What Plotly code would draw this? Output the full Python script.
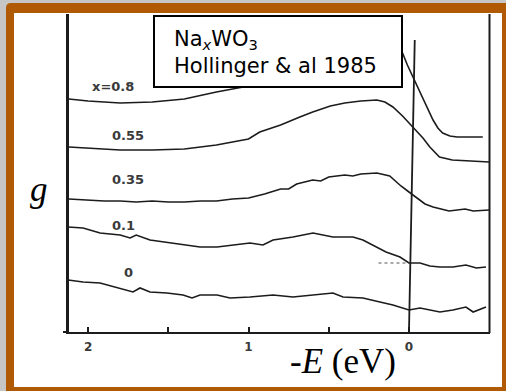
import plotly.graph_objects as go

# Valence-band photoemission spectra of Na_xWO3 (Hollinger et al. 1985)
# Energy axis: -E in eV (binding energy, Fermi level at 0); g in arbitrary units.

energy_08 = [2.12, 2.0, 1.8, 1.6, 1.4, 1.2, 1.0, 0.8, 0.6, 0.4, 0.3, 0.2, 0.12, 0.07,
             0.04, 0.01, -0.025, -0.056, -0.087, -0.12, -0.15, -0.18, -0.21, -0.255,
             -0.30, -0.38, -0.46]
g_08 = [23.3, 23.1, 22.9, 23.0, 23.3, 24.0, 24.6, 25.8, 27.0, 28.2, 28.8, 29.2, 29.2, 28.7,
        27.9, 26.7, 25.5, 24.3, 23.2, 22.1, 21.2, 20.4, 19.9, 19.6,
        19.5, 19.5, 19.5]

energy_055 = [2.12, 2.0, 1.8, 1.6, 1.4, 1.2, 1.0, 0.93, 0.8, 0.68, 0.6, 0.49, 0.4, 0.3,
              0.2, 0.15, 0.1, 0.04, -0.025, -0.087, -0.13, -0.19, -0.27, -0.38, -0.5]
g_055 = [18.5, 18.4, 18.2, 18.2, 18.3, 18.7, 19.3, 20.0, 20.7, 21.5, 22.0, 22.6, 22.9, 23.1,
         23.2, 23.0, 22.5, 21.6, 20.5, 19.4, 18.5, 17.5, 17.2, 17.1, 17.0]

energy_035 = [2.12, 2.0, 1.9, 1.8, 1.7, 1.6, 1.5, 1.4, 1.3, 1.2, 1.1, 1.0, 0.9, 0.8, 0.75,
              0.7, 0.6, 0.55, 0.5, 0.4, 0.35, 0.3, 0.2, 0.12, 0.05, 0.0, -0.05, -0.1,
              -0.15, -0.2, -0.25, -0.3, -0.35, -0.4, -0.5]
g_035 = [13.3, 13.2, 13.1, 13.1, 13.0, 13.1, 13.0, 13.0, 13.1, 13.1, 13.3, 13.4, 13.8, 14.3, 14.3,
         14.8, 15.2, 15.1, 15.5, 15.7, 15.6, 15.8, 15.9, 15.6, 14.6, 14.0, 13.4, 12.8,
         12.5, 12.3, 12.1, 12.2, 12.3, 12.1, 12.2]

energy_01 = [2.125, 2.031, 1.925, 1.80, 1.738, 1.70, 1.614, 1.47, 1.302, 1.196, 1.097, 0.991,
             0.91, 0.847, 0.723, 0.598, 0.474, 0.349, 0.287, 0.224, 0.143, 0.056, 0.0,
             -0.069, -0.13, -0.193, -0.274, -0.355, -0.42, -0.48]
g_01 = [10.5, 10.4, 9.9, 9.7, 9.4, 9.7, 9.2, 8.9, 8.5, 8.5, 8.7, 8.9,
        8.7, 9.2, 9.5, 9.9, 9.5, 9.5, 9.2, 8.7, 8.0, 7.5, 6.9,
        6.9, 6.6, 6.5, 6.5, 6.7, 6.4, 6.5]

energy_0 = [2.125, 2.031, 1.925, 1.819, 1.72, 1.676, 1.614, 1.508, 1.408, 1.352, 1.302,
            1.196, 1.115, 0.991, 0.847, 0.723, 0.598, 0.474, 0.411, 0.287, 0.181, 0.10,
            0.0, -0.069, -0.193, -0.274, -0.355, -0.40, -0.48]
g_0 = [5.2, 5.0, 4.9, 4.4, 4.0, 4.4, 4.0, 3.9, 3.7, 3.4, 3.7,
       3.7, 3.4, 3.5, 3.7, 3.5, 3.7, 3.9, 3.5, 3.4, 3.0, 2.7,
       2.2, 2.4, 2.0, 2.2, 2.5, 2.0, 2.5]

# short dotted extrapolation of the x=0.1 edge onto the Fermi level
fermi_mark_e = [0.19, 0.0]
fermi_mark_g = [6.9, 6.9]

curve_names = ["x=0.8", "0.55", "0.35", "0.1", "0"]
major_ticks = [2, 1, 0]
major_labels = ["2", "1", "0"]
minor_ticks = [1.5, 0.5]

W, H = 506, 391
ML, MR, MT, MB = 68, 16, 14, 59
PW, PH = W - ML - MR, H - MT - MB


def px(x):
    return (x - ML) / PW


def py(y):
    return (H - MB - y) / PH


ink = "#1c1c1c"
fig = go.Figure()

series = [(energy_08, g_08), (energy_055, g_055), (energy_035, g_035),
          (energy_01, g_01), (energy_0, g_0)]
for (e, g), name in zip(series, curve_names):
    fig.add_trace(go.Scatter(x=e, y=g, mode="lines", name=name,
                             line=dict(color=ink, width=1.6), showlegend=False))

fig.add_trace(go.Scatter(x=fermi_mark_e, y=fermi_mark_g, mode="lines",
                         line=dict(color="#555555", width=1.2, dash="dot"),
                         showlegend=False))

shapes = []
# brown picture frame with white panel
x0, x1, y0, y1 = px(6), px(512), py(3), py(398)
rx, ry = 5 / PW, 5 / PH
shapes.append(dict(type="path", xref="paper", yref="paper", layer="below",
                   path=(f"M {x0 + rx},{y0} L {x1},{y0} L {x1},{y1} L {x0},{y1} "
                         f"L {x0},{y0 - ry} Q {x0},{y0} {x0 + rx},{y0} Z"),
                   fillcolor="#b05a05", line=dict(width=0)))
shapes.append(dict(type="rect", xref="paper", yref="paper", layer="below",
                   x0=px(14), x1=px(502), y0=py(13), y1=py(387),
                   fillcolor="white", line=dict(width=0)))
# left and right frame lines of the spectrum panel
shapes.append(dict(type="line", xref="paper", yref="paper",
                   x0=px(68), x1=px(68), y0=py(333), y1=py(14),
                   line=dict(color=ink, width=2)))
shapes.append(dict(type="line", xref="paper", yref="paper",
                   x0=px(489.5), x1=px(489.5), y0=py(333), y1=py(14),
                   line=dict(color=ink, width=2)))
# small overshoot of the baseline past the left axis
shapes.append(dict(type="line", xref="paper", yref="paper",
                   x0=px(63), x1=px(69), y0=py(332), y1=py(332),
                   line=dict(color=ink, width=2)))
# Fermi level marker
shapes.append(dict(type="line", xref="x", yref="y", x0=0.0, y0=0.0, x1=-0.036, y1=29.2,
                   line=dict(color=ink, width=1.8)))
# caption box
shapes.append(dict(type="rect", xref="paper", yref="paper", layer="above",
                   x0=px(154), x1=px(402), y0=py(16), y1=py(87),
                   fillcolor="white", line=dict(color="black", width=2)))

annotations = []
label_font = dict(family="DejaVu Sans", size=13, color="#3a3a3a")
label_pos = [(1.844, 24.6), (1.751, 19.7), (1.751, 15.3), (1.782, 10.7), (1.751, 6.0)]
for name, (le, lg) in zip(curve_names, label_pos):
    annotations.append(dict(x=le, y=lg, xref="x", yref="y", text=f"<b>{name}</b>",
                            showarrow=False, font=label_font))

cap_font = dict(family="DejaVu Sans, Verdana", size=21, color="black")
annotations.append(dict(x=px(172), y=py(40), xref="paper", yref="paper",
                        xanchor="left", yanchor="middle", showarrow=False,
                        text="Na<sub><i>x</i></sub>WO<sub>3</sub>", font=cap_font))
annotations.append(dict(x=px(172), y=py(66), xref="paper", yref="paper",
                        xanchor="left", yanchor="middle", showarrow=False,
                        text="Hollinger &amp; al 1985", font=cap_font))

serif = "Liberation Serif, Times New Roman, serif"
annotations.append(dict(x=px(39), y=py(189), xref="paper", yref="paper",
                        xanchor="center", yanchor="middle", showarrow=False,
                        text="<i>g</i>", font=dict(family=serif, size=35, color="black")))
annotations.append(dict(x=px(343), y=py(361), xref="paper", yref="paper",
                        xanchor="center", yanchor="middle", showarrow=False,
                        text="-<i>E</i> (eV)", font=dict(family=serif, size=35, color="black")))

fig.update_layout(
    width=W, height=H, autosize=False,
    margin=dict(l=ML, r=MR, t=MT, b=MB, pad=0),
    paper_bgcolor="#c6c6c6", plot_bgcolor="rgba(0,0,0,0)",
    shapes=shapes, annotations=annotations, showlegend=False,
    xaxis=dict(range=[2.125, -0.505], showgrid=False, zeroline=False,
               showline=True, linecolor=ink, linewidth=2,
               tickmode="array", tickvals=major_ticks,
               ticktext=[f"<b>{t}</b>" for t in major_labels],
               ticks="inside", ticklen=5, tickwidth=1.6, tickcolor=ink,
               ticklabelstandoff=3,
               tickfont=dict(family="DejaVu Sans", size=12, color="#3a3a3a"),
               minor=dict(tickmode="array", tickvals=minor_ticks, ticks="inside",
                          ticklen=5, tickwidth=1.6, tickcolor=ink, showgrid=False),
               fixedrange=True),
    yaxis=dict(range=[0, 31.8], showgrid=False, zeroline=False,
               showline=True, linecolor=ink, linewidth=2,
               showticklabels=False, ticks="", fixedrange=True),
)

fig.write_html("out.html")
